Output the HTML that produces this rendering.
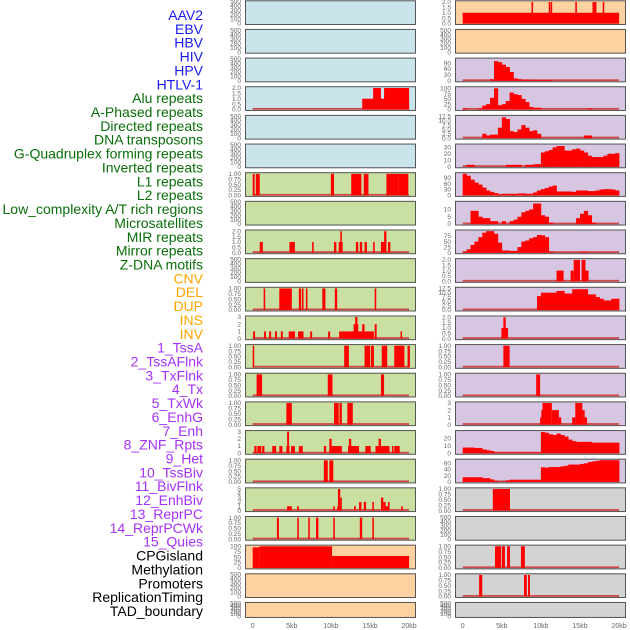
<!DOCTYPE html>
<html><head><meta charset="utf-8">
<style>
html,body{margin:0;padding:0;background:#fff;width:630px;height:630px;overflow:hidden}
svg{display:block}
text{font-family:"Liberation Sans",sans-serif}
</style></head>
<body>
<svg id="chart" width="630" height="630" viewBox="0 0 630 630" xmlns="http://www.w3.org/2000/svg">
<g id="labels"></g>
<g id="panels"></g>
<g id="xaxes"></g>
</svg>
<script>
// ---------- data ----------
const trackLabels = ["AAV2","EBV","HBV","HIV","HPV","HTLV-1","Alu repeats","A-Phased repeats","Directed repeats","DNA transposons","G-Quadruplex forming repeats","Inverted repeats","L1 repeats","L2 repeats","Low_complexity A/T rich regions","Microsatellites","MIR repeats","Mirror repeats","Z-DNA motifs","CNV","DEL","DUP","INS","INV","1_TssA","2_TssAFlnk","3_TxFlnk","4_Tx","5_TxWk","6_EnhG","7_Enh","8_ZNF_Rpts","9_Het","10_TssBiv","11_BivFlnk","12_EnhBiv","13_ReprPC","14_ReprPCWk","15_Quies","CPGisland","Methylation","Promoters","ReplicationTiming","TAD_boundary"];
const labelGroups = [6,13,5,15,5];
const xTickValues = [0,5,10,15,20];
const xTickLabels = ["0","5kb","10kb","15kb","20kb"];

// segment series: [startKb, endKb, value]
const segAlu = [[14,20,1],[15.4,16.4,2],[16.8,20,2]];
const segL1 = [[0,0.25,1],[0.4,0.9,1],[10,10.4,1],[12.6,13.9,1],[14.2,14.8,1],[17.1,18.6,1],[18.6,19.9,1]];
const segMIR = [[0.9,1.3,1],[4.7,5.4,1],[7.6,7.8,1],[10.4,10.7,1],[11,11.5,1],[11.2,11.4,2],[13.2,13.5,1],[13.7,14,1],[14.3,14.6,1],[15.4,15.6,1],[16.4,17.1,1],[16.8,17.1,2],[17.3,17.6,1]];
const segZDNA = [[1.4,1.6,1],[3.4,5,1],[5.9,6.2,1],[6.3,6.5,1],[6.8,7,1],[8.9,9.3,1],[10.5,10.8,1],[15.6,15.8,1]];
const segDEL = [[0.05,0.3,1],[1.45,1.7,1],[2.1,2.35,1],[2.85,3.1,1],[3.6,3.85,1],[4.6,5.4,1],[5.8,6.5,1],[7.35,7.6,1],[9.65,9.9,1],[11.05,15.3,1],[12.9,13.5,2],[13.1,13.4,3],[14,14.3,2],[15,15.5,1],[15.6,15.85,2],[18.9,19.1,1]];
const segDUP = [[0,0.15,1],[11.7,12.3,1],[14.3,15,1],[15.1,15.5,1],[16.5,17.2,1],[18.1,19.4,1],[19.8,20.1,1]];
const segINS = [[0.5,1.2,1],[9.6,10.2,1],[16.4,16.8,1]];
const segINV = [[4.3,5,1],[10.4,11,1],[11.1,11.4,1],[12.1,12.8,1]];
const segTssA = [[0.2,0.5,1],[0.6,1.1,1],[1.2,1.5,1],[2.5,3,1],[3.4,3.8,1],[4.3,4.7,1],[4.4,4.65,3],[4.9,5.4,1],[5.9,6.4,1],[9.1,9.4,1],[9.8,11.4,1],[9.8,10.1,2],[12.2,13.6,1],[12.3,12.6,2],[14.4,15.1,1],[15.7,17.5,1],[16.1,16.4,2],[17.8,18,1],[18.1,18.8,1]];
const segTssAFlnk = [[9.1,9.6,1],[9.8,10.3,1]];
const segTxFlnk = [[4.4,5,1],[5.67,5.9,1],[10.3,10.5,1],[10.8,11.3,1],[10.9,11.2,5],[11.2,11.4,3],[12.96,13.2,1],[13.6,13.9,2],[14.2,14.5,2],[15.3,15.5,2],[16.4,16.7,3],[16.7,17,2],[17,17.3,1],[17.3,17.5,2],[19,19.2,1]];
const segTx = [[3.1,3.35,1],[5.7,5.9,1],[7.1,7.3,1],[8.1,8.4,1],[10.3,10.5,1],[13.7,14,1],[15.3,15.5,1]];
const segTxWk = [[0,0.85,95],[0.85,10.15,100],[10.15,20,55]];
const segAAV2 = [[0,20,1],[8.8,9,2],[11,11.2,2],[11.25,11.4,2],[14.4,14.6,2],[16.6,17.1,2],[17.9,18.1,2]];
const segZNF = [[12,12.9,1],[13.8,14.2,1],[14.2,15,2],[15.2,15.7,2],[15.7,16.1,1]];
const segHet = [[4.95,5.8,1],[5.2,5.5,2]];
const segTssBiv = [[5.2,6,1]];
const segBivFlnk = [[9.4,9.9,1]];
const segEnhBiv = [[9.9,10.2,1],[10.05,10.2,2],[10.2,11.4,3],[11.4,12.3,2],[12.3,12.6,1],[14,14.4,1],[14.4,15.3,3],[15.3,15.6,2],[15.6,15.9,1]];
const segCPG = [[3.85,6.05,1]];
const segProm = [[4.13,4.9,1],[5,5.4,1],[5.67,6.05,1],[7.45,7.95,1]];
const segRepl = [[2.1,2.5,1],[7.84,8.2,1],[8.35,8.6,1]];

// binned series (0.5 kb bins, 40 bins)
const binHIV = [0,0,0,0,0,0,0,8,100,95,82,70,45,12,8,5,6,4,4,4,4,4,4,0,0,0,0,0,0,0,0,0,0,0,0,0,0,0,0,0];
const binHPV = [5,0,0,0,5,18,25,55,100,20,25,40,80,72,68,50,35,12,8,8,0,0,0,0,0,0,0,0,0,0,0,0,5,0,0,0,0,0,0,0];
const binHTLV = [0,0,0,0,0,2.5,1.5,2,2,6,12,11,4,3.5,5,7.5,6,4,4.5,2.5,0,0,0,0,0,0,0,0,0,0,0,1.5,1.5,0,0,0,0,0,0,0];
const binRepE = [0,3,3,0,0,0,0,0,0,0,0,3,3,3,3,0,3,3,4,4,22,24,26,30,32,32,25,25,27,28,25,22,17,15,15,15,17,20,20,21];
const binRepF = [110,100,80,65,55,40,25,18,12,5,8,8,8,8,10,10,8,8,15,25,32,38,45,50,20,20,20,20,18,25,25,25,22,22,25,30,32,32,30,25];
const binRepG = [0,0,9,9,5,4,4,2,2,0,2,0,2,3,5,8,9,10,14,14,6,5,1,0,0,0,0,0,0,4,7,9,6,1,0,0,0,0,0,0];
const binRepH = [5,15,35,50,70,90,97,97,85,45,10,10,8,8,25,50,55,65,70,80,78,70,5,0,0,0,0,0,0,0,3,3,0,0,0,0,0,0,0,0];
const binRepJ = [0,0,0,0,0,0,0,0,0,0,0,0,0,0,0,0,0,0,0,8,10,10,10,10,11,11,9.5,9.5,12,12,12,12,9,9,7.5,6.5,5.5,5.5,6.5,6.5];
const binEnh = [7.5,7.5,7.5,7,7,5,4,3,1,1,1,1,1,1,1,1,1,1,1,1,28,27,25,24,26,24,22,18,16,15,15,15,15,14,14,14,14,14,14,14];
const binHetR = [15,15,15,15,15,12,12,8,3,0,0,5,7,7,7,7,7,7,7,7,47,46,48,48,48,50,52,56,56,56,58,60,64,66,68,70,70,70,70,70];

// tick sets
const tkEmpty = [0,100,200,300,400,500];
const tk1 = [0,0.25,0.5,0.75,1];
const tk2 = [0,0.5,1,1.5,2];
const tk3 = [0,1,2,3];
const tk5 = [0,1,2,3,4,5];
const tk125 = [0,2.5,5,7.5,10,12.5];

// ---------- layout ----------
const BG = {blue:"#c9e4eb", green:"#c9e0a2", orange:"#fed1a0", purple:"#d7c6e2", grey:"#d3d3d3"};
const COLX = [{x:245,w:171,x0:252.7},{x:455,w:171,x0:462.7}];
const KBPX = 7.82;
const panels = [
 [0,0,"blue",tkEmpty,0,500,"e",null,"aav2-track"],
 [0,1,"orange",tk2,1,2.05,"s",segAAV2,"cnv-track"],
 [1,0,"blue",tkEmpty,0,500,"e",null,"ebv-track"],
 [1,1,"orange",tkEmpty,0,500,"e",null,"del-track"],
 [2,0,"blue",tkEmpty,0,500,"e",null,"hbv-track"],
 [2,1,"purple",[0,30,60,90],0,112,"b",binHIV,"hiv-integration-track"],
 [3,0,"blue",tk2,1,2.05,"s",segAlu,"alu-track"],
 [3,1,"purple",[0,25,50,75,100],0,104,"b",binHPV,"hpv-integration-track"],
 [4,0,"blue",tkEmpty,0,500,"e",null,"htlv-track"],
 [4,1,"purple",tk125,1,12.7,"b",binHTLV,"htlv-integration-track"],
 [5,0,"blue",tkEmpty,0,500,"e",null,"aphased-track"],
 [5,1,"purple",[0,10,20,30],0,34,"b",binRepE,"repeat-e-track"],
 [6,0,"green",tk1,2,1.02,"s",segL1,"l1-track"],
 [6,1,"purple",[0,30,60,90],0,112,"b",binRepF,"repeat-f-track"],
 [7,0,"green",tkEmpty,0,500,"e",null,"l2-track"],
 [7,1,"purple",[0,5,10],0,15,"b",binRepG,"repeat-g-track"],
 [8,0,"green",tk2,1,2.05,"s",segMIR,"mir-track"],
 [8,1,"purple",[0,25,50,75],0,99,"b",binRepH,"repeat-h-track"],
 [9,0,"green",tkEmpty,0,500,"e",null,"microsat-track"],
 [9,1,"purple",tk2,1,2.05,"s",segZNF,"repeat-i-track"],
 [10,0,"green",tk1,2,1.02,"s",segZDNA,"zdna-track"],
 [10,1,"purple",tk125,1,12.7,"b",binRepJ,"repeat-j-track"],
 [11,0,"green",tk3,0,3.05,"s",segDEL,"del-sv-track"],
 [11,1,"purple",tk2,1,2.05,"s",segHet,"state-a-track"],
 [12,0,"green",tk1,2,1.02,"s",segDUP,"dup-track"],
 [12,1,"purple",tk1,2,1.02,"s",segTssBiv,"state-b-track"],
 [13,0,"green",tk1,2,1.02,"s",segINS,"ins-track"],
 [13,1,"purple",tk1,2,1.02,"s",segBivFlnk,"state-c-track"],
 [14,0,"green",tk1,2,1.02,"s",segINV,"inv-track"],
 [14,1,"purple",tk3,0,3.05,"s",segEnhBiv,"state-d-track"],
 [15,0,"green",tk3,0,3.05,"s",segTssA,"tssa-track"],
 [15,1,"purple",[0,10,20],0,29,"b",binEnh,"state-e-track"],
 [16,0,"green",tk1,2,1.02,"s",segTssAFlnk,"tssaflnk-track"],
 [16,1,"purple",[0,20,40,60],0,71,"b",binHetR,"state-f-track"],
 [17,0,"green",tk5,0,5.1,"s",segTxFlnk,"txflnk-track"],
 [17,1,"grey",tk1,2,1.02,"s",segCPG,"cpg-track"],
 [18,0,"green",tk1,2,1.02,"s",segTx,"tx-track"],
 [18,1,"grey",tkEmpty,0,500,"e",null,"methylation-track"],
 [19,0,"orange",[0,25,50,75,100],0,102,"s",segTxWk,"txwk-track"],
 [19,1,"grey",tk1,2,1.02,"s",segProm,"promoters-track"],
 [20,0,"orange",tkEmpty,0,500,"e",null,"orange-empty-track"],
 [20,1,"grey",tk1,2,1.02,"s",segRepl,"replication-track"],
 [21,0,"orange",tkEmpty,0,500,"e",null,"tad-left-track"],
 [21,1,"grey",tkEmpty,0,500,"e",null,"tad-right-track"]
];

const NS = "http://www.w3.org/2000/svg";
function mk(tag, attrs, parent){
  const el = document.createElementNS(NS, tag);
  for (const k in attrs) el.setAttribute(k, attrs[k]);
  parent.appendChild(el);
  return el;
}

const labelG = document.getElementById("labels");
const groupColors = ["#1a1aee","#0a6e0a","#ffa500","#a632f5","#000000"];
let li = 0;
labelGroups.forEach((n, gi) => {
  for (let k = 0; k < n; k++, li++) {
    const t = mk("text", {x:203, y:(15 + li*13.86 + 5).toFixed(1), "text-anchor":"end", "font-size":"14", fill:groupColors[gi]}, labelG);
    
    
    t.textContent = trackLabels[li];
  }
});

const panelG = document.getElementById("panels");
panels.forEach(p => {
  const [row, col, bg, ticks, dec, ymax, kind, data, name] = p;
  const C = COLX[col];
  const top = 0.3 + row*28.65;
  const h = row === 21 ? 16 : 24.7;
  const g = mk("g", {}, panelG);
  
  
  const bgR = mk("rect", {x:C.x, y:top, width:C.w, height:h, fill:BG[bg]}, g);
  
  
  const yb = top + h - 1.5, yt = top + 1.2;
  const yS = v => yb - (v/ymax)*(yb-yt);
  const xS = kb => C.x0 + kb*KBPX;
  ticks.forEach(tv => {
    const t = mk("text", {x:C.x-4, y:(yS(tv)+2.2).toFixed(1), "text-anchor":"end", "font-size":"6.5", fill:"#666"}, g);
    
    
    t.textContent = tv.toFixed(dec);
  });
  if (kind !== "e") {
    const base = mk("rect", {x:xS(0), y:yb-1.5, width:xS(20)-xS(0), height:1.8, fill:"#d04848"}, g);
    
    
  }
  if (kind === "s") {
    data.forEach(s => {
      const r = mk("rect", {x:xS(s[0]).toFixed(2), y:yS(s[2]).toFixed(2), width:Math.max(1.5, xS(s[1])-xS(s[0])).toFixed(2), height:(yb-yS(s[2])).toFixed(2), fill:"#ff0000"}, g);
      
      
    });
  } else if (kind === "b") {
    data.forEach((v, i) => {
      if (!v) return;
      const r = mk("rect", {x:xS(i*0.5).toFixed(2), y:yS(v).toFixed(2), width:(0.5*KBPX+0.3).toFixed(2), height:(yb-yS(v)).toFixed(2), fill:"#ff0000"}, g);
      
      
    });
  }
  const fr = mk("rect", {x:C.x+0.5, y:top+0.5, width:C.w-1, height:h-1, fill:"none", stroke:"#555", "stroke-width":1}, g);
  
  
});

const xg = document.getElementById("xaxes");
COLX.forEach(C => {
  xTickValues.forEach((v, i) => {
    const t = mk("text", {x:(C.x0 + v*KBPX).toFixed(1), y:628, "text-anchor":"middle", "font-size":"7", fill:"#666"}, xg);
    
    
    t.textContent = xTickLabels[i];
  });
});
</script>
</body></html>
